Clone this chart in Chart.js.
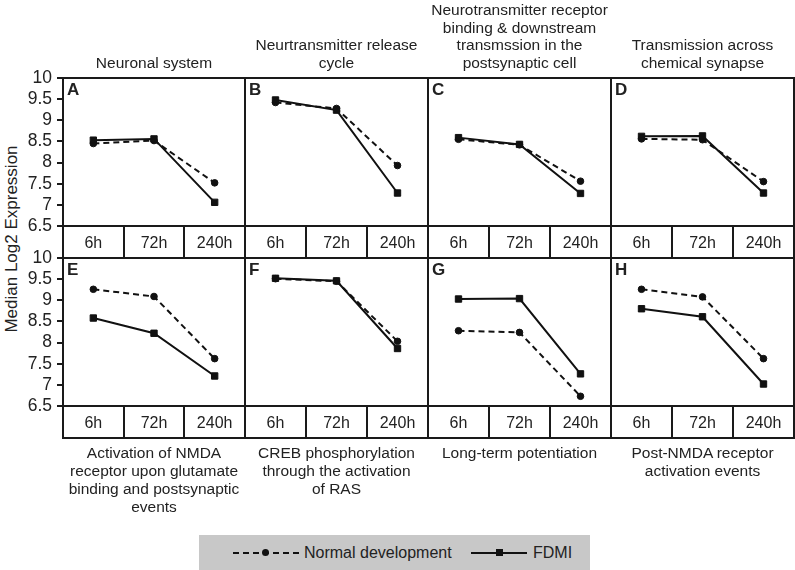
<!DOCTYPE html>
<html lang="en">
<head>
  <meta charset="UTF-8" />
  <title>Median Log2 Expression</title>
  <script src="https://cdn.jsdelivr.net/npm/chart.js"></script>
  <style>
    body { margin: 0; background: #fff; font-family: "Liberation Sans", Arial, sans-serif; color: #222; }
    #page { position: relative; width: 795px; height: 570px; overflow: hidden; }
    canvas { position: absolute; }
    .title { position: absolute; text-align: center; font-size: 15.5px; line-height: 17.5px; }
    .letter { position: absolute; font-weight: bold; font-size: 17px; }
    #ytitle { position: absolute; left: 12px; top: 239px; transform: translate(-50%, -50%) rotate(-90deg); white-space: nowrap; font-size: 17px; }
    #legend { position: absolute; left: 199px; top: 535px; width: 391px; height: 35px; background: #c8c8c8; font-size: 16px; }
    .lg { position: absolute; top: 9px; white-space: nowrap; }
    .dash { position: absolute; top: 17px; height: 0; border-top: 2px dashed #111; }
    .solid { position: absolute; top: 17px; height: 0; border-top: 2px solid #111; }
    .dot { position: absolute; top: 14px; width: 7px; height: 7px; border-radius: 50%; background: #111; }
    .sq { position: absolute; top: 14px; width: 7px; height: 7px; background: #111; }
  </style>
</head>
<body>
<div id="page">
  <div id="ytitle">Median Log2 Expression</div>
  <div id="legend">
    <div class="dash" style="left:34px; width:66px;"></div>
    <div class="dot" style="left:63px;"></div>
    <div class="lg" style="left:105px;">Normal development</div>
    <div class="solid" style="left:272px; width:56px;"></div>
    <div class="sq" style="left:297px;"></div>
    <div class="lg" style="left:334px;">FDMI</div>
  </div>
</div>

<script>
  const times = ['6h', '72h', '240h'];
  const yTicks = [6.5, 10, 0.5]; // min, max, step

  const titles = [
    'Neuronal system',
    'Neurtransmitter release<br>cycle',
    'Neurotransmitter receptor<br>binding &amp; downstream<br>transmssion in the<br>postsynaptic cell',
    'Transmission across<br>chemical synapse',
    'Activation of NMDA<br>receptor upon glutamate<br>binding and postsynaptic<br>events',
    'CREB phosphorylation<br>through the activation<br>of RAS',
    'Long-term potentiation',
    'Post-NMDA receptor<br>activation events'
  ];
  const letters = ['A', 'B', 'C', 'D', 'E', 'F', 'G', 'H'];

  // Normal development (dashed, circles)
  const normalA = [8.45, 8.52, 7.52];
  const normalB = [9.42, 9.28, 7.93];
  const normalC = [8.55, 8.42, 7.56];
  const normalD = [8.56, 8.54, 7.55];
  const normalE = [9.26, 9.09, 7.62];
  const normalF = [9.51, 9.45, 8.03];
  const normalG = [8.28, 8.24, 6.73];
  const normalH = [9.26, 9.08, 7.62];

  // FDMI (solid, squares)
  const fdmiA = [8.53, 8.56, 7.06];
  const fdmiB = [9.48, 9.24, 7.28];
  const fdmiC = [8.59, 8.43, 7.27];
  const fdmiD = [8.62, 8.63, 7.28];
  const fdmiE = [8.58, 8.22, 7.21];
  const fdmiF = [9.52, 9.46, 7.86];
  const fdmiG = [9.03, 9.04, 7.26];
  const fdmiH = [8.80, 8.61, 7.02];

  const normalAll = [normalA, normalB, normalC, normalD, normalE, normalF, normalG, normalH];
  const fdmiAll = [fdmiA, fdmiB, fdmiC, fdmiD, fdmiE, fdmiF, fdmiG, fdmiH];

  // page layout
  const colX = [63, 245, 428, 611, 794];
  const rowTop = [78, 258];
  const plotH = 148;
  const boxH = 33;
  const ink = '#1a1a1a';
  const fam = '"Liberation Sans", Arial, sans-serif';

  // draws panel frame + the box holding the time labels
  const framePlugin = {
    id: 'frame',
    afterDraw(chart) {
      const { ctx, chartArea: a, scales } = chart;
      ctx.save();
      ctx.strokeStyle = ink;
      ctx.lineWidth = 2;
      ctx.strokeRect(a.left, a.top, a.right - a.left, a.bottom - a.top);
      ctx.strokeRect(a.left, scales.x.top, a.right - a.left, scales.x.bottom - scales.x.top - 1);
      ctx.restore();
    }
  };

  const page = document.getElementById('page');

  for (let i = 0; i < 8; i++) {
    const row = Math.floor(i / 4);
    const col = i % 4;
    const isLeft = col === 0;
    const pw = colX[col + 1] - colX[col];
    const padTop = 14;

    const cv = document.createElement('canvas');
    const left = isLeft ? 0 : colX[col] - 1;
    const w = isLeft ? colX[1] + 1 : pw + 2;
    const h = padTop + plotH + boxH + 1;
    cv.style.left = left + 'px';
    cv.style.top = (rowTop[row] - padTop) + 'px';
    cv.style.width = w + 'px';
    cv.style.height = h + 'px';
    cv.width = w;
    cv.height = h;
    page.appendChild(cv);

    // titles
    const t = document.createElement('div');
    t.className = 'title';
    t.innerHTML = titles[i];
    t.style.left = (colX[col] - 10) + 'px';
    t.style.width = (pw + 20) + 'px';
    if (row === 0) {
      t.style.bottom = (570 - 71) + 'px';
    } else {
      t.style.top = '444px';
      t.style.lineHeight = '18px';
    }
    page.appendChild(t);

    const l = document.createElement('div');
    l.className = 'letter';
    l.textContent = letters[i];
    l.style.left = (colX[col] + 4) + 'px';
    l.style.top = (rowTop[row] + 2) + 'px';
    page.appendChild(l);

    new Chart(cv.getContext('2d'), {
      type: 'line',
      data: {
        labels: times,
        datasets: [
          {
            label: 'FDMI',
            data: fdmiAll[i],
            borderColor: '#111',
            backgroundColor: '#111',
            borderWidth: 2,
            pointStyle: 'rect',
            pointRadius: 4.5,
            pointBorderWidth: 1,
            tension: 0
          },
          {
            label: 'Normal development',
            data: normalAll[i],
            borderColor: '#111',
            backgroundColor: '#111',
            borderWidth: 2,
            borderDash: [6, 4],
            pointStyle: 'circle',
            pointRadius: 3.3,
            pointBorderWidth: 1,
            tension: 0
          }
        ]
      },
      options: {
        responsive: false,
        animation: false,
        events: [],
        layout: {
          autoPadding: false,
          padding: { top: padTop, right: 1, bottom: 1, left: isLeft ? 0 : 1 }
        },
        plugins: { legend: { display: false }, tooltip: { enabled: false } },
        scales: {
          x: {
            type: 'category',
            offset: true,
            grid: {
              offset: true,
              drawOnChartArea: false,
              drawTicks: true,
              tickLength: boxH,
              color: ink,
              lineWidth: 2
            },
            border: { display: false },
            ticks: { font: { family: fam, size: 16 }, color: '#222', padding: -25, maxRotation: 0, autoSkip: false },
            afterFit: (s) => { s.height = boxH; }
          },
          y: {
            display: isLeft,
            min: yTicks[0],
            max: yTicks[1],
            ticks: {
              stepSize: yTicks[2],
              font: { family: fam, size: 17.5, lineHeight: 1 },
              color: '#222',
              padding: 5,
              autoSkip: false,
              callback: (v) => String(v)
            },
            grid: { drawOnChartArea: false, tickLength: 6, color: ink, lineWidth: 2 },
            border: { display: false },
            afterFit: (s) => { s.width = isLeft ? colX[0] : 0; }
          }
        }
      },
      plugins: [framePlugin]
    });
  }
</script>
</body>
</html>
